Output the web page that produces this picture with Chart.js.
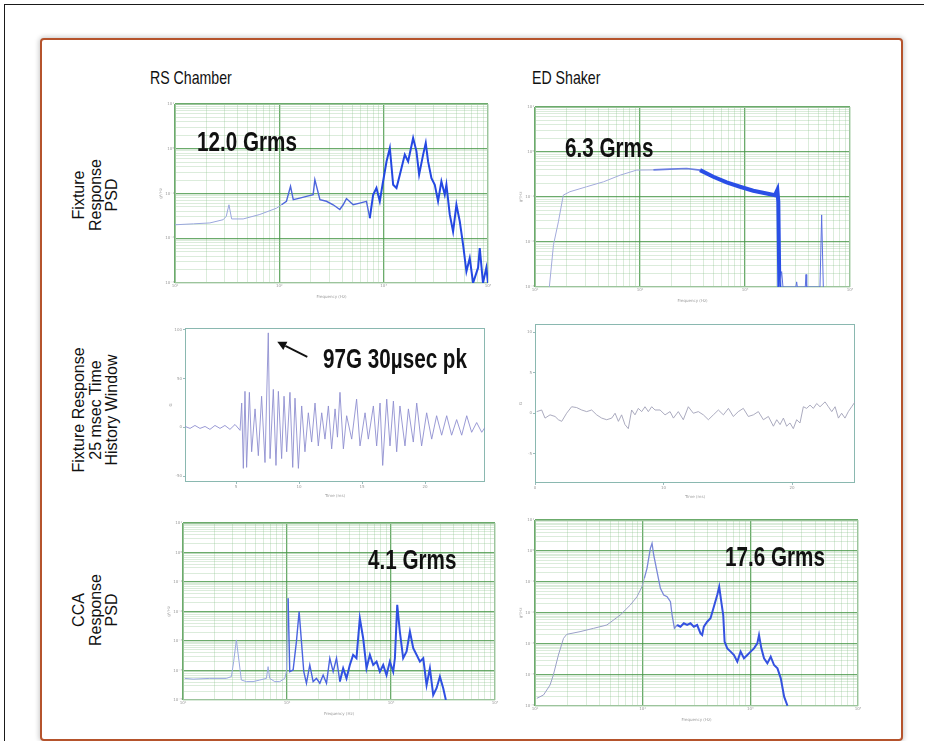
<!DOCTYPE html>
<html><head><meta charset="utf-8">
<title>RS Chamber vs ED Shaker responses</title>
<script src="https://cdn.jsdelivr.net/npm/chart.js@4.4.1/dist/chart.umd.min.js"></script>
<style>
html,body{margin:0;padding:0;background:#fff;}
body{position:relative;width:928px;height:741px;overflow:hidden;font-family:"Liberation Sans",Arial,sans-serif;color:#111;}
#outer{position:absolute;left:4px;top:4px;width:919px;height:760px;border-left:1.6px solid #1a1a1a;border-top:1.6px solid #1a1a1a;}
#panel{position:absolute;left:40px;top:38px;width:863px;height:703px;box-sizing:border-box;border:2.5px solid #b5532c;border-radius:4px;box-shadow:0 0 5px 1px rgba(0,0,0,0.22);background:#fff;}
.cw{position:absolute;}
.col{position:absolute;font-size:19px;line-height:19px;white-space:nowrap;transform-origin:0 0;transform:scaleX(0.745);}
.row{position:absolute;font-size:17px;line-height:16.5px;text-align:center;white-space:nowrap;transform:translate(-50%,-50%) rotate(-90deg) scaleX(0.94);}
.grms{position:absolute;font-weight:bold;font-size:27px;line-height:27px;white-space:nowrap;transform-origin:0 0;transform:scaleX(0.765);}
</style></head><body>
<div id="outer"></div>
<div id="panel"></div>
<div class="col" style="left:150px;top:68px;">RS Chamber</div>
<div class="col" style="left:532px;top:68px;">ED Shaker</div>
<div class="row" style="left:96px;top:195px;">Fixture<br>Response<br>PSD</div>
<div class="row" style="left:96px;top:410px;">Fixture Response<br>25 msec Time<br>History Window</div>
<div class="row" style="left:96px;top:610px;">CCA<br>Response<br>PSD</div>
<script>
// ---------------- data ----------------
const psdDecadesX = [10, 100, 1000, 10000];
const fixturePsdDecadesY = [0.001, 0.01, 0.1, 1, 10];
const ccaPsdDecadesY = [0.00001, 0.0001, 0.001, 0.01, 0.1, 1, 10];

// RS Chamber fixture response PSD
const rsFixtureFreq = [10,15,21.6,29,31,32.9,34.9,45,65,94,105,117,128,136,157,182,211,219,245,283,328,380,409,440,510,590,684,736,793,853,918,975,1065,1146,1233,1327,1429,1594,1716,1916,2062,2187,2389,2531,2665,2870,3090,3322,3575,3849,3993,4299,4627,4981,5361,5770,6211,6683,7194,8035,8337,8954,9640,10000];
const rsFixturePsd = [0.020,0.021,0.022,0.026,0.031,0.056,0.027,0.027,0.034,0.047,0.056,0.067,0.145,0.073,0.079,0.086,0.094,0.204,0.073,0.067,0.056,0.044,0.056,0.077,0.056,0.061,0.067,0.028,0.094,0.133,0.067,0.157,0.52,1.04,0.157,0.133,0.264,0.74,0.52,1.74,0.875,0.264,0.74,1.34,0.52,0.22,0.157,0.067,0.187,0.094,0.157,0.034,0.014,0.056,0.024,0.0072,0.0018,0.0036,0.001,0.0022,0.006,0.001,0.0022,0.001];

// ED Shaker fixture response PSD
const edFixtureFreq = [13.7,15,16.7,18.6,21.5,31,45,65,93,134,193,278,373,499,669,896,1199,1607,1931,2032,2076,2123,2234,2300,3050,3105,3150,3750,3811,3870,5177,5370,5570];
const edFixturePsd = [0.001,0.0087,0.028,0.11,0.131,0.169,0.218,0.307,0.396,0.40,0.417,0.431,0.396,0.282,0.211,0.169,0.138,0.120,0.11,0.143,0.079,0.001,0.0022,0.001,0.001,0.0013,0.001,0.001,0.0019,0.001,0.001,0.040,0.001];

// RS Chamber fixture time history (ms, G)
const rsTimeMs = [0.95,1.35,1.74,2.14,2.54,2.93,3.33,3.73,4.12,4.52,4.92,5.32,5.45,5.58,5.71,5.84,6.06,6.24,6.51,6.77,7.03,7.30,7.56,7.70,7.96,8.17,8.36,8.62,8.81,9.02,9.28,9.50,9.68,9.95,10.21,10.47,10.74,11.00,11.27,11.53,11.80,12.06,12.33,12.59,12.86,13.05,13.25,13.52,13.78,14.18,14.57,14.84,15.24,15.50,15.90,16.16,16.43,16.64,16.96,17.22,17.49,17.75,18.01,18.41,18.68,19.07,19.34,19.73,20.13,20.53,20.92,21.32,21.72,22.11,22.51,22.91,23.31,23.70,24.10,24.50,24.76];
const rsTimeG = [1,-1,2,-1,1,-2,2,-1,2,-2,3,-3,25,-42,37,-41,36,-25,19,-29,32,-36,97,-32,39,-39,37,-32,32,-25,36,-41,30,-42,22,-25,15,-15,25,-19,15,-12,22,-22,19,-10,36,-22,12,-12,29,-19,15,-12,22,-19,25,-39,29,-19,27,-25,22,-19,19,-15,25,-19,15,-12,12,-8,12,-8,8,-8,12,-5,5,-5,0];
const rsTimeTicksX = [5, 10, 15, 20];
const rsTimeTicksY = [-50, 0, 50, 100];

// ED Shaker fixture time history (ms, G)
const edTimeMs = [0.13,0.52,0.78,1.17,1.56,1.82,2.08,2.46,2.85,3.24,3.63,4.02,4.41,4.80,5.19,5.58,5.97,6.23,6.49,6.74,7.00,7.26,7.52,7.78,8.04,8.30,8.56,8.82,9.08,9.34,9.73,10.12,10.51,10.77,11.15,11.54,11.93,12.32,12.71,13.10,13.49,13.88,14.27,14.66,15.05,15.43,15.82,16.21,16.60,16.99,17.38,17.77,18.16,18.55,18.81,19.07,19.33,19.58,19.84,20.10,20.36,20.62,20.88,21.14,21.40,21.66,21.92,22.18,22.57,22.83,23.09,23.35,23.61,23.86,24.12,24.38,24.64,24.90];
const edTimeG = [0.2,0.4,-0.6,-0.2,-0.4,-0.8,-1.0,0,0.8,0.7,0.4,0.2,0.4,-0.2,-0.6,-0.8,-0.6,0,-1.0,-0.2,-1.4,-1.9,0.4,-0.2,0.6,0.2,0.8,0.2,0.8,0.4,0.4,-0.2,0.2,-0.6,0.2,-0.8,0.8,0,0.2,-0.2,-0.8,-0.2,0.4,-0.2,0.6,-0.4,0.2,0.6,-0.4,-0.2,0.2,-0.8,-0.4,-1.6,-0.8,-1.4,-0.6,-1.6,-1.2,-1.9,-0.8,-1.2,0.8,0.6,1.0,0.6,1.2,0.8,1.4,0.8,0.2,0.8,-0.6,0,-0.6,0.2,0.8,1.4];
const edTimeTicksX = [0, 10, 20];
const edTimeTicksY = [-5, 0, 5, 10];

// RS Chamber CCA response PSD
const rsCcaFreq = [10.4,12.5,18.1,26.1,29.2,30.7,32.6,34.6,36.4,40.7,47.2,54.7,63.4,65.8,68.2,76.3,85.2,95.2,98.7,102.5,106.3,114.5,123.2,130.8,137.7,145,153.8,165.6,178.3,192,206.8,222.6,239.7,258,277.8,299.2,322.2,346.7,373.3,401.8,432.5,465.6,501.5,540,581.7,626.5,674.5,726.1,781.6,841.4,905.7,975,1050,1090,1148,1216,1309,1412,1520,1636,1761,1897,2042,2198,2366,2547,2742,2953,3178,3370];
const rsCcaPsd = [5.4e-5,5.1e-5,5.4e-5,5.4e-5,6.2e-5,2.0e-4,1.09e-3,2.0e-4,4.75e-5,4.2e-5,4.2e-5,4.75e-5,5.4e-5,1.35e-4,5.4e-5,4.2e-5,4.2e-5,5.4e-5,9.1e-5,2.83e-2,9.1e-5,1.04e-4,9.5e-4,1.0e-2,9.5e-4,9.1e-5,3.7e-5,1.54e-4,4.2e-5,5.4e-5,3.7e-5,7.0e-5,3.7e-5,2.6e-4,9.1e-5,2.6e-4,4.2e-5,1.19e-4,5.4e-5,1.54e-4,3.4e-4,2.6e-4,5.9e-3,1.24e-3,1.19e-4,3.4e-4,1.54e-4,2.0e-4,9.1e-5,1.54e-4,7.0e-5,2.0e-4,9.1e-5,2.6e-4,1.68e-2,2.08e-3,2.6e-4,4.4e-4,2.08e-3,5.7e-4,3.4e-4,2.0e-4,2.6e-4,3.2e-5,1.19e-4,1.47e-5,2.5e-5,6.2e-5,2.5e-5,1e-5];

// ED Shaker CCA response PSD
const edCcaFreq = [10.4,12,13.8,14.8,16.5,18.4,19.7,26.2,35,46.5,61.9,76.8,88.6,98.6,103.6,109.7,117.9,122.2,126.6,136,146.1,156.9,168.6,181.1,187.7,197.2,208.9,224.4,241,258.8,278,298.6,320.7,344.5,357.2,370,397.3,426.8,458.3,492.7,514,537,560,576.8,610.9,656,704.7,756.8,812.8,873,937.6,1007,1081,1161,1204,1266,1340,1439,1546,1660,1786,1918,2060,2213];
const edCcaPsd = [1.77e-5,2.27e-5,4.75e-5,1e-4,4.42e-4,1.52e-3,2.05e-3,2.5e-3,3.2e-3,4.1e-3,8.6e-3,0.0181,0.0336,0.0706,0.131,0.276,1.22,1.77,0.743,0.215,0.0625,0.0381,0.0336,0.0232,8.6e-3,3.2e-3,4.1e-3,3.62e-3,4.64e-3,4.1e-3,4.64e-3,3.62e-3,4.1e-3,2.21e-3,1.95e-3,3.62e-3,5.25e-3,6.73e-3,0.016,0.0381,0.0706,0.0232,8.6e-3,1.19e-3,7.24e-4,5.66e-4,4.42e-4,2.69e-4,5.66e-4,3.45e-4,4.42e-4,5.66e-4,7.24e-4,1.05e-3,1.95e-3,7.24e-4,3.45e-4,2.38e-4,3.9e-4,2.1e-4,1.64e-4,7.8e-5,2.0e-5,1.02e-5];

const grmsLabels = ['12.0 Grms', '6.3 Grms', '4.1 Grms', '17.6 Grms'];
const peakLabel = '97G 30\u00b5sec pk';

// ---------------- helpers ----------------
Chart.defaults.font.family = '"DejaVu Sans", sans-serif';
const PAD = {l: 16, r: 8, t: 10, b: 16};
const SUP = {'-':'\u207b','0':'\u2070','1':'\u00b9','2':'\u00b2','3':'\u00b3','4':'\u2074','5':'\u2075','6':'\u2076','7':'\u2077','8':'\u2078','9':'\u2079'};
function pow10Label(v) { const e = Math.round(Math.log10(v)); return '10' + String(e).split('').map(c => SUP[c]).join(''); }
function logTicks(decades) {
  const out = [];
  for (let i = 0; i < decades.length - 1; i++) for (let k = 1; k < 10; k++) out.push({value: decades[i] * k, major: k === 1});
  out.push({value: decades[decades.length - 1], major: true});
  return out;
}
function pts(xs, ys) { return xs.map((x, i) => ({x: x, y: ys[i]})); }

const framePlugin = {
  id: 'frame',
  beforeDatasetsDraw(chart, args, opts) {
    const a = chart.chartArea, c = chart.ctx;
    c.save(); c.strokeStyle = opts.color || '#9c9'; c.lineWidth = 1;
    c.strokeRect(Math.round(a.left) + 0.5, Math.round(a.top) + 0.5, Math.round(a.right - a.left) - 1, Math.round(a.bottom - a.top) - 1);
    c.restore();
  }
};
const peakArrowPlugin = {
  id: 'peakArrow',
  afterDatasetsDraw(chart, args, opts) {
    if (!opts.enabled) return;
    const d = chart.data.datasets[0].data;
    let pk = d[0]; d.forEach(p => { if (p.y > pk.y) pk = p; });
    const px = chart.scales.x.getPixelForValue(pk.x), py = chart.scales.y.getPixelForValue(pk.y);
    const tip = [px + 9, py + 9], tail = [px + 39, py + 24];
    const c = chart.ctx; c.save();
    c.strokeStyle = '#111'; c.fillStyle = '#111'; c.lineWidth = 1.8;
    const ang = Math.atan2(tip[1] - tail[1], tip[0] - tail[0]);
    const hl = 9, hw = 4.5;
    const bx = tip[0] - hl * Math.cos(ang), by = tip[1] - hl * Math.sin(ang);
    c.beginPath(); c.moveTo(tail[0], tail[1]); c.lineTo(bx, by); c.stroke();
    c.beginPath(); c.moveTo(tip[0], tip[1]);
    c.lineTo(bx + hw * Math.sin(ang), by - hw * Math.cos(ang));
    c.lineTo(bx - hw * Math.sin(ang), by + hw * Math.cos(ang));
    c.closePath(); c.fill(); c.restore();
  }
};

function logScale(decades, axis, title) {
  return {
    type: 'logarithmic', min: decades[0], max: decades[decades.length - 1],
    afterBuildTicks: s => { s.ticks = logTicks(decades); },
    afterFit: s => { if (axis === 'x') s.height = PAD.b; else s.width = PAD.l; },
    ticks: {autoSkip: false, maxRotation: 0, font: {size: 4}, color: '#9a9a9a', padding: 1,
      callback: v => decades.includes(v) ? pow10Label(v) : ''},
    grid: {drawTicks: false,
      color: c => (c.tick && c.tick.major) ? 'rgba(70,150,70,0.8)' : 'rgba(140,195,140,0.45)',
      lineWidth: c => (c.tick && c.tick.major) ? 1.3 : 0.7},
    border: {display: false},
    title: {display: true, text: title, font: {size: 4}, color: '#9a9a9a', padding: 0}
  };
}
function linScale(min, max, ticks, axis, title) {
  return {
    type: 'linear', min: min, max: max,
    afterBuildTicks: s => { s.ticks = ticks.map(v => ({value: v})); },
    afterFit: s => { if (axis === 'x') s.height = PAD.b; else s.width = PAD.l; },
    ticks: {autoSkip: false, maxRotation: 0, font: {size: 4}, color: '#9a9a9a', padding: 1},
    grid: {drawOnChartArea: false, drawTicks: true, tickLength: 2, color: '#9cbcbc'},
    border: {display: false},
    title: {display: true, text: title, font: {size: 4}, color: '#9a9a9a', padding: 0}
  };
}
function addChart(rect, data, xScale, yScale, style, frameColor, arrow) {
  const w = rect.r - rect.l + PAD.l + PAD.r, h = rect.b - rect.t + PAD.t + PAD.b;
  const box = document.createElement('div'); box.className = 'cw';
  box.style.left = (rect.l - PAD.l) + 'px'; box.style.top = (rect.t - PAD.t) + 'px';
  box.style.width = w + 'px'; box.style.height = h + 'px';
  const cv = document.createElement('canvas'); cv.width = w; cv.height = h;
  cv.style.width = w + 'px'; cv.style.height = h + 'px';
  box.appendChild(cv); document.body.appendChild(box);
  return new Chart(cv, {
    type: 'line',
    data: {datasets: [{data: data, pointRadius: 0, tension: 0, fill: false,
      borderColor: style(data[0].x)[0], borderWidth: style(data[0].x)[1],
      segment: {borderColor: c => style(c.p0.parsed.x)[0], borderWidth: c => style(c.p0.parsed.x)[1]}}]},
    options: {
      responsive: false, animation: false, events: [],
      layout: {padding: {left: 0, right: PAD.r, top: PAD.t, bottom: 0}},
      plugins: {legend: {display: false}, tooltip: {enabled: false}, frame: {color: frameColor}, peakArrow: {enabled: !!arrow}},
      scales: {x: xScale, y: yScale}
    },
    plugins: [framePlugin, peakArrowPlugin]
  });
}
function addText(cls, text, left, top) {
  const d = document.createElement('div'); d.className = cls; d.textContent = text;
  d.style.left = left + 'px'; d.style.top = top + 'px'; document.body.appendChild(d);
}

// ---------------- charts ----------------
addChart({l: 175, t: 104, r: 488, b: 283}, pts(rsFixtureFreq, rsFixturePsd),
  logScale(psdDecadesX, 'x', 'Frequency (Hz)'), logScale(fixturePsdDecadesY, 'y', 'g\u00b2/Hz'),
  f => f < 100 ? ['#9aa7dd', 1] : f < 700 ? ['#4d66dc', 1.4] : ['#2448e2', 2], '#9cc49c');

addChart({l: 535, t: 107, r: 850, b: 287}, pts(edFixtureFreq, edFixturePsd),
  logScale(psdDecadesX, 'x', 'Frequency (Hz)'), logScale(fixturePsdDecadesY, 'y', 'g\u00b2/Hz'),
  f => f < 130 ? ['#a3abdc', 1] : f < 350 ? ['#6a7ee0', 1.6] : f < 2100 ? ['#2a4fe6', 4] : ['#5b70e0', 1], '#9cc49c');

addChart({l: 185, t: 328, r: 485, b: 482}, pts(rsTimeMs, rsTimeG),
  linScale(0.95, 24.76, rsTimeTicksX, 'x', 'Time (ms)'), linScale(-56, 102, rsTimeTicksY, 'y', 'G'),
  t => ['#8f8fd0', 0.9], '#8ab8b0', true);

addChart({l: 535, t: 324, r: 855, b: 483}, pts(edTimeMs, edTimeG),
  linScale(0, 24.9, edTimeTicksX, 'x', 'Time (ms)'), linScale(-8.6, 11, edTimeTicksY, 'y', 'G'),
  t => ['#a2a2b8', 0.9], '#8ab8b0');

addChart({l: 183, t: 523, r: 495, b: 700}, pts(rsCcaFreq, rsCcaPsd),
  logScale(psdDecadesX, 'x', 'Frequency (Hz)'), logScale(ccaPsdDecadesY, 'y', 'g\u00b2/Hz'),
  f => f < 100 ? ['#9aa8e0', 1] : f < 300 ? ['#4a63e0', 1.4] : ['#2f50e2', 2], '#9cc49c');

addChart({l: 535, t: 520, r: 858, b: 706}, pts(edCcaFreq, edCcaPsd),
  logScale(psdDecadesX, 'x', 'Frequency (Hz)'), logScale(ccaPsdDecadesY, 'y', 'g\u00b2/Hz'),
  f => f < 100 ? ['#9aa0c8', 1] : f < 200 ? ['#7a88d8', 1.3] : ['#3552e0', 2], '#9cc49c');

// ---------------- annotations ----------------
addText('grms', grmsLabels[0], 197, 128.5);
addText('grms', grmsLabels[1], 565, 134.5);
addText('grms', grmsLabels[2], 368, 546.5);
addText('grms', grmsLabels[3], 725, 543.5);
addText('grms', peakLabel, 323, 345.5);
</script>
</body></html>
